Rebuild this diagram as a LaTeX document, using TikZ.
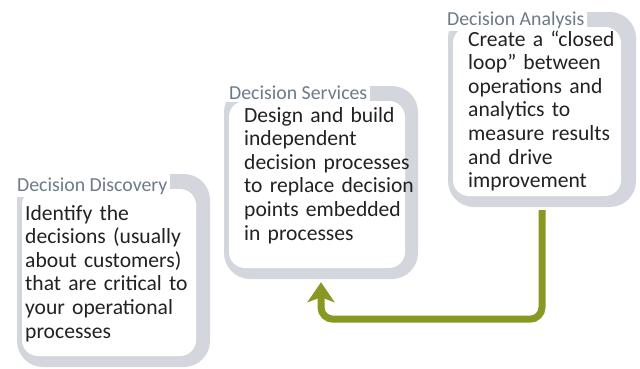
\documentclass[tikz,border=0pt]{standalone}
\usepackage{fontspec}
\setmainfont{Carlito}
\usetikzlibrary{arrows.meta}

\definecolor{bandgray}{RGB}{211,214,220}
\definecolor{titleblue}{RGB}{108,122,138}
\definecolor{bodyink}{RGB}{34,34,34}
\definecolor{olive}{RGB}{137,152,34}

\tikzset{
  outerband/.style={draw=none, fill=bandgray, rounded corners=26pt, inner sep=0pt},
  innerpanel/.style={draw=none, fill=white, rounded corners=16pt, inner sep=0pt},
  stagetitle/.style={fill=white, text=titleblue, inner sep=3pt, anchor=base west,
    font=\fontsize{19.8pt}{22pt}\selectfont},
  stagebody/.style={text=bodyink, inner sep=0pt, anchor=base west, align=left,
    text width=185pt, font=\fontsize{21.6pt}{23.6pt}\selectfont},
  looparrow/.style={draw=olive, line width=7pt, rounded corners=12pt,
    -{Stealth[length=20pt,width=27pt,inset=5pt]}}
}

\begin{document}
\begin{tikzpicture}[x=1pt,y=-1pt]
\useasboundingbox (0,0) rectangle (640,368);

% stage 1: discovery
\node[outerband, minimum width=193pt, minimum height=193pt] (disc) at (113.5,270.5) {};
\node[innerpanel, minimum width=174pt, minimum height=167pt] (discin) at (109,272.5) {};
\node[stagetitle] (disct) at (14,191) {Decision Discovery};
\node[stagebody] (discb) at (25,220) {Identify the\\decisions (usually\\about customers)\\that are critical to\\your operational\\processes};

% stage 2: services
\node[outerband, minimum width=194pt, minimum height=193pt] (serv) at (321,182.5) {};
\node[innerpanel, minimum width=176pt, minimum height=167pt] (servin) at (317,184.5) {};
\node[stagetitle] (servt) at (226,99) {Decision Services};
\node[stagebody] (servb) at (244,122) {Design and build\\independent\\decision processes\\to replace decision\\points embedded\\in processes};

% stage 3: analysis
\node[outerband, minimum width=188pt, minimum height=195pt] (ana) at (542,109.5) {};
\node[innerpanel, minimum width=168pt, minimum height=169pt] (anain) at (537,111.5) {};
\node[stagetitle] (anat) at (444,25) {Decision Analysis};
\node[stagebody] (anab) at (468,46) {Create a “closed\\loop” between\\operations and\\analytics to\\measure results\\and drive\\improvement};

% feedback loop from analysis back to services
\draw[looparrow] ([yshift=-3pt]ana.south) -- ++(0,109) -| ([yshift=-3pt]serv.south);
\end{tikzpicture}
\end{document}
